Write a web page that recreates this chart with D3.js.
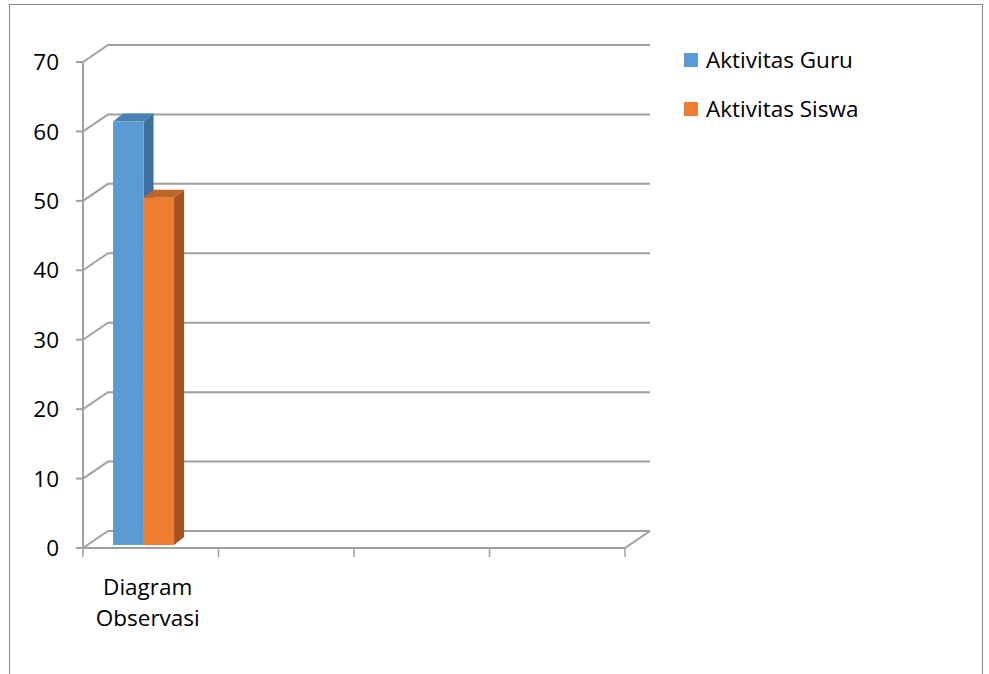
<!DOCTYPE html>
<html><head><meta charset="utf-8">
<script src="https://cdn.jsdelivr.net/npm/d3@7"></script>
<style>html,body{margin:0;padding:0;background:#fff;}svg{display:block;}</style>
</head><body>
<script>
const categories = ["Diagram Observasi", "", "", ""];
const series = ["Aktivitas Guru", "Aktivitas Siswa"];
const values = { "Aktivitas Guru": [61, null, null, null], "Aktivitas Siswa": [50, null, null, null] };
const yTicks = [0, 10, 20, 30, 40, 50, 60, 70];
const colors = { "Aktivitas Guru": ["#5b9bd5", "#3f6f9c", "#4a80b3"], "Aktivitas Siswa": ["#ed7d31", "#a4521e", "#c0642a"] };

const W = 989, H = 674;
const font = "'Open Sans', 'Noto Sans', sans-serif";
const fs = 22.5;
const svg = d3.select("body").append("svg").attr("width", W).attr("height", H);

svg.append("rect").attr("x", 9.5).attr("y", 4.5).attr("width", 973).attr("height", 700)
  .attr("fill", "none").attr("stroke", "#898989").attr("stroke-width", 1);

const y = d3.scaleLinear().domain([0, 70]).range([548, 62]);
const x = d3.scaleBand().domain(categories.map((c, i) => i)).range([83, 625]);
const DX = 25, DY = -17;
const grid = "#a0a0a0";

const g = svg.append("g");
// gridlines (left wall diagonal + back wall)
yTicks.forEach(t => {
  const yy = y(t);
  g.append("path").attr("d", `M83,${yy}L${83 + DX},${yy + DY}L${625 + DX},${yy + DY}`)
    .attr("fill", "none").attr("stroke", grid).attr("stroke-width", 2);
});
// floor front edge + right diagonal
g.append("path").attr("d", `M83,${y(0)}L625,${y(0)}L${625 + DX},${y(0) + DY}`)
  .attr("fill", "none").attr("stroke", grid).attr("stroke-width", 2);
// vertical axis
g.append("line").attr("x1", 83).attr("x2", 83).attr("y1", y(70)).attr("y2", y(0))
  .attr("stroke", grid).attr("stroke-width", 2);
yTicks.forEach(t => {
  g.append("line").attr("x1", 76).attr("x2", 83).attr("y1", y(t)).attr("y2", y(t))
    .attr("stroke", grid).attr("stroke-width", 2);
  g.append("text").attr("x", 59).attr("y", y(t)).attr("dy", "0.36em").attr("text-anchor", "end")
    .attr("font-family", font).attr("font-size", fs).attr("fill", "#000").text(t);
});
// category ticks
const edges = categories.map((c, i) => x(i)).concat([x.range()[1]]);
edges.forEach(e => {
  g.append("line").attr("x1", e).attr("x2", e).attr("y1", y(0)).attr("y2", y(0) + 9)
    .attr("stroke", grid).attr("stroke-width", 1.5);
});
// category labels
categories.forEach((c, i) => {
  if (!c) return;
  const words = c.split(" ");
  const t = g.append("text").attr("text-anchor", "middle").attr("font-family", font)
    .attr("font-size", fs).attr("fill", "#000");
  words.forEach((w, k) => {
    t.append("tspan").attr("x", x(i) + x.bandwidth() / 2 - 3).attr("y", 595 + k * 31).text(w);
  });
});

// bars
const bw = x.bandwidth();
const x1 = d3.scaleBand().domain(series).range([bw * 0.222, bw * 0.672]);
const bdx = 10, bdy = -8, byOff = -3;
series.forEach(s => {
  values[s].forEach((v, i) => {
    if (v == null) return;
    const xl = x(i) + x1(s), xr = xl + x1.bandwidth();
    const yt = y(v) + byOff, yb = y(0) + byOff;
    const [cf, cs, ct] = colors[s];
    g.append("path").attr("d", `M${xr},${yt}L${xr + bdx},${yt + bdy}L${xr + bdx},${yb + bdy}L${xr},${yb}Z`).attr("fill", cs);
    g.append("path").attr("d", `M${xl},${yt}L${xr},${yt}L${xr + bdx},${yt + bdy}L${xl + bdx},${yt + bdy}Z`).attr("fill", ct);
    g.append("rect").attr("x", xl).attr("y", yt).attr("width", xr - xl).attr("height", yb - yt).attr("fill", cf);
  });
});

// legend
series.forEach((s, k) => {
  const ly = 60 + k * 49;
  svg.append("rect").attr("x", 684).attr("y", ly - 7).attr("width", 14).attr("height", 14).attr("fill", colors[s][0]);
  svg.append("text").attr("x", 706).attr("y", ly).attr("dy", "0.36em").attr("font-family", font)
    .attr("font-size", fs).attr("fill", "#000").text(s);
});
</script>
</body></html>
